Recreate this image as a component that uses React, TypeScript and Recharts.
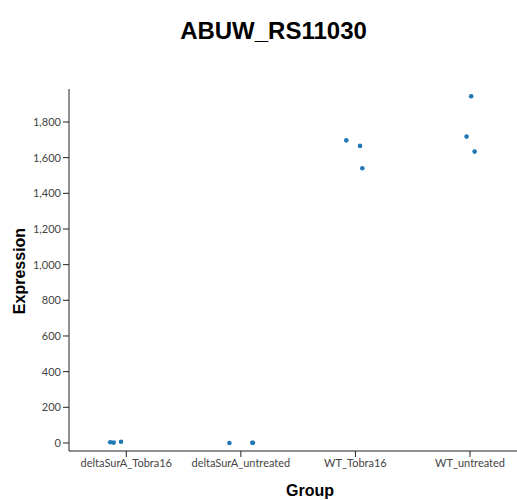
import React from "react";
import { ScatterChart, Scatter, XAxis, YAxis } from "recharts";

const groups = ["deltaSurA_Tobra16", "deltaSurA_untreated", "WT_Tobra16", "WT_untreated"];
const expression = [
  [4, 2, 7],
  [0, 1, 1],
  [1697, 1666, 1541],
  [1944, 1718, 1634],
];
const jitter = [
  [-0.14, -0.11, -0.046],
  [-0.1, 0.1, 0.105],
  [-0.08, 0.04, 0.06],
  [0.01, -0.03, 0.04],
];
const yTicks = [0, 200, 400, 600, 800, 1000, 1200, 1400, 1600, 1800];

const data = groups.flatMap((g, gi) =>
  expression[gi].map((v, i) => ({ group: g, x: gi + jitter[gi][i], y: v }))
);

if (typeof document !== "undefined") {
  document.body.style.margin = "0";
  document.body.style.overflow = "hidden";
}

const font = "Lato, 'Open Sans', sans-serif";
const boldFont = "'Liberation Sans', Arial, sans-serif";

export default function App() {
  return (
    <div style={{ position: "relative", width: 517, height: 500, overflow: "hidden" }}>
      <div
        style={{
          position: "absolute",
          top: 17,
          left: 0,
          width: 547,
          textAlign: "center",
          fontFamily: boldFont,
          fontWeight: "bold",
          fontSize: 24,
          lineHeight: "28px",
        }}
      >
        ABUW_RS11030
      </div>
      <div
        style={{
          position: "absolute",
          left: 20,
          top: 271,
          transform: "translate(-50%, -50%) rotate(-90deg)",
          fontFamily: boldFont,
          fontWeight: "bold",
          fontSize: 16,
          lineHeight: "18px",
          whiteSpace: "nowrap",
        }}
      >
        Expression
      </div>
      <div
        style={{
          position: "absolute",
          left: 0,
          width: 620,
          top: 482,
          textAlign: "center",
          fontFamily: boldFont,
          fontWeight: "bold",
          fontSize: 16,
          lineHeight: "18px",
        }}
      >
        Group
      </div>
      <div style={{ position: "absolute", top: 8, left: 8 }}>
        <ScatterChart width={509} height={492} margin={{ top: 81, right: 0, bottom: 0, left: 0 }}>
          <XAxis
            type="number"
            dataKey="x"
            domain={[-0.5, 3.41]}
            ticks={[0, 1, 2, 3]}
            tickFormatter={(v: number) => groups[Math.round(v)]}
            height={49}
            stroke="#222"
            tickSize={6}
            tick={{ fontSize: 11, fill: "#444", fontFamily: font }}
            allowDataOverflow
          />
          <YAxis
            type="number"
            dataKey="y"
            domain={[-45, 1985]}
            ticks={yTicks}
            tickFormatter={(v: number) => v.toLocaleString("en-US")}
            width={61}
            stroke="#222"
            tickSize={6}
            tick={{ fontSize: 11, fill: "#444", fontFamily: font }}
            allowDataOverflow
          />
          <Scatter
            data={data}
            fill="#1f77b4"
            isAnimationActive={false}
            shape={(p: any) => <circle cx={p.cx} cy={p.cy} r={2.3} fill="#1f77b4" />}
          />
        </ScatterChart>
      </div>
    </div>
  );
}
